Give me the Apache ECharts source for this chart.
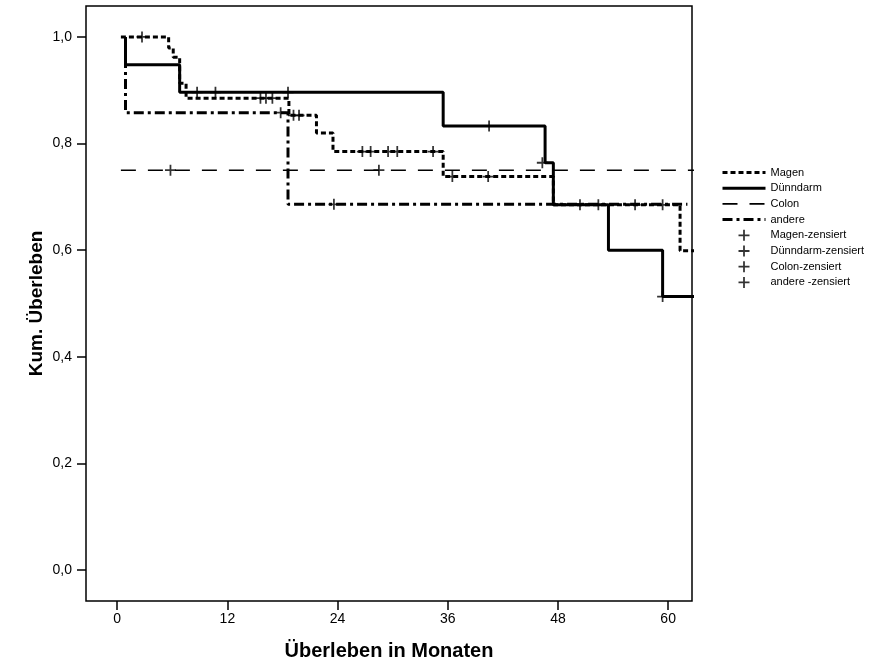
<!DOCTYPE html>
<html>
<head>
<meta charset="utf-8">
<script src="https://cdn.jsdelivr.net/npm/echarts@6/dist/echarts.min.js"></script>
<style>
  html, body { margin: 0; padding: 0; background: #fff; }
  #chart { width: 892px; height: 668px; }
</style>
</head>
<body>
<div id="chart"></div>
<script>
// Kaplan-Meier Kurven (Monate, kum. Überleben)
var magenZeit = [0.4, 5.6, 6.1, 6.8, 7.5, 18.7, 21.7, 23.5, 35.5, 47.5, 61.3, 63];
var magenWert = [1.0, 0.979, 0.962, 0.913, 0.885, 0.853, 0.82, 0.785, 0.738, 0.685, 0.599, 0.599];

var duennZeit = [0.9, 0.9, 6.8, 35.5, 46.6, 47.5, 53.5, 59.4, 63];
var duennWert = [1.0, 0.948, 0.896, 0.833, 0.764, 0.685, 0.600, 0.513, 0.513];

var colonZeit = [0.4, 63];
var colonWert = [0.75, 0.75];

var andereZeit = [0.9, 0.9, 18.6, 62.1];
var andereWert = [1.0, 0.858, 0.686, 0.686];

// zensierte Fälle
var magenZensZeit = [2.7, 15.6, 16.2, 16.9, 19.2, 19.8, 26.7, 27.6, 29.5, 30.5, 34.4, 36.5, 40.4, 56.4, 59.4];
var magenZensWert = [1.0, 0.885, 0.885, 0.885, 0.853, 0.853, 0.785, 0.785, 0.785, 0.785, 0.785, 0.738, 0.738, 0.685, 0.685];

var duennZensZeit = [8.7, 10.7, 18.6, 40.5, 46.3, 50.4, 52.4, 59.4];
var duennZensWert = [0.896, 0.896, 0.896, 0.833, 0.764, 0.685, 0.685, 0.513];

var colonZensZeit = [5.8, 28.5];
var colonZensWert = [0.75, 0.75];

var andereZensZeit = [17.8, 23.6];
var andereZensWert = [0.858, 0.686];

var xTicks = [0, 12, 24, 36, 48, 60];
var yTicks = [0, 0.2, 0.4, 0.6, 0.8, 1.0];

var fontFam = 'Liberation Sans, Arial, sans-serif';
var plus = 'path://M0,4.2H10V5.8H0Z M4.2,0H5.8V10H4.2Z';

function pairs(xs, ys) {
  return xs.map(function (x, i) { return [x, ys[i]]; });
}

function kurve(name, xs, ys, lineStyle) {
  return {
    name: name,
    type: 'line',
    step: 'end',
    symbol: 'none',
    data: pairs(xs, ys),
    lineStyle: lineStyle,
    itemStyle: { color: '#000' },
    animation: false
  };
}

function zensiert(name, xs, ys) {
  return {
    name: name,
    type: 'scatter',
    symbol: plus,
    symbolSize: 11,
    data: pairs(xs, ys),
    itemStyle: { color: '#000' },
    z: 5,
    animation: false
  };
}

var chart = echarts.init(document.getElementById('chart'));

var option = {
  backgroundColor: '#fff',
  textStyle: { fontFamily: fontFam, color: '#000' },
  grid: {
    left: 86, top: 6, right: 200, bottom: 67,
    show: true,
    borderColor: '#000',
    borderWidth: 1.5,
    backgroundColor: 'transparent'
  },
  legend: {
    orient: 'vertical',
    left: 716,
    top: 162,
    itemWidth: 43,
    itemHeight: 11,
    itemGap: 4.7,
    textStyle: { fontSize: 11, color: '#000', fontFamily: fontFam },
    data: [
      { name: 'Magen', itemStyle: { opacity: 0 }, lineStyle: { width: 3 } },
      { name: 'Dünndarm', itemStyle: { opacity: 0 }, lineStyle: { width: 3 } },
      { name: 'Colon', itemStyle: { opacity: 0 }, lineStyle: { width: 1.6 } },
      { name: 'andere', itemStyle: { opacity: 0 }, lineStyle: { width: 3 } },
      { name: 'Magen-zensiert', icon: plus },
      { name: 'Dünndarm-zensiert', icon: plus },
      { name: 'Colon-zensiert', icon: plus },
      { name: 'andere -zensiert', icon: plus }
    ]
  },
  xAxis: {
    type: 'value',
    min: -3.4,
    max: 62.6,
    name: 'Überleben in Monaten',
    nameLocation: 'middle',
    nameGap: 40,
    nameTextStyle: { fontSize: 20, fontWeight: 'bold', color: '#000', fontFamily: fontFam },
    axisLine: { show: false, onZero: false },
    splitLine: { show: false },
    axisTick: { show: true, length: 9, customValues: xTicks, lineStyle: { color: '#000', width: 1.5 } },
    axisLabel: { customValues: xTicks, margin: 11, fontSize: 14, color: '#000', fontFamily: fontFam }
  },
  yAxis: {
    type: 'value',
    min: -0.058,
    max: 1.058,
    name: 'Kum. Überleben',
    nameLocation: 'middle',
    nameGap: 40,
    nameMoveOverlap: false,
    nameTextStyle: { fontSize: 19, fontWeight: 'bold', color: '#000', fontFamily: fontFam },
    axisLine: { show: false, onZero: false },
    splitLine: { show: false },
    axisTick: { show: true, length: 9, customValues: yTicks, lineStyle: { color: '#000', width: 1.5 } },
    axisLabel: {
      customValues: yTicks, margin: 14, fontSize: 14, color: '#000', fontFamily: fontFam,
      formatter: function (v) { return v.toFixed(1).replace('.', ','); }
    }
  },
  series: [
    kurve('Magen', magenZeit, magenWert, { color: '#000', width: 3, type: [5, 3] }),
    kurve('Dünndarm', duennZeit, duennWert, { color: '#000', width: 3 }),
    kurve('Colon', colonZeit, colonWert, { color: '#000', width: 1.6, type: [15, 12] }),
    kurve('andere', andereZeit, andereWert, { color: '#000', width: 3, type: [10, 4, 3, 4] }),
    zensiert('Magen-zensiert', magenZensZeit, magenZensWert),
    zensiert('Dünndarm-zensiert', duennZensZeit, duennZensWert),
    zensiert('Colon-zensiert', colonZensZeit, colonZensWert),
    zensiert('andere -zensiert', andereZensZeit, andereZensWert)
  ]
};

chart.setOption(option);
</script>
</body>
</html>
